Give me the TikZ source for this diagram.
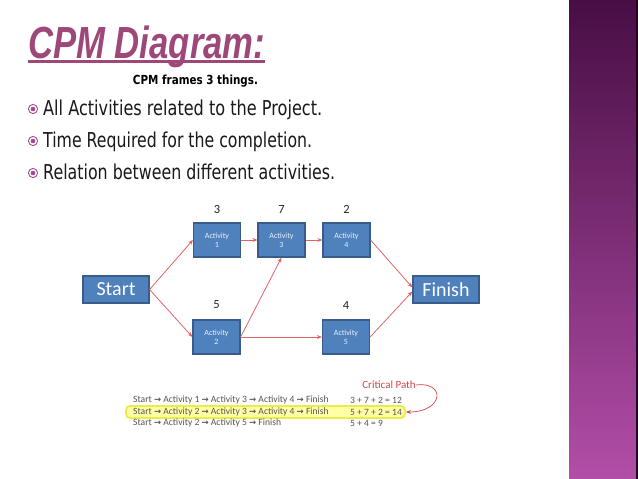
\documentclass[tikz,border=0pt]{standalone}
\usepackage{fontspec}
\usepackage{graphicx}
\usetikzlibrary{arrows.meta}
\setmainfont{Carlito}
\newfontfamily\titlefont{Liberation Sans}
\newfontfamily\bodyfont{DejaVu Sans}
\definecolor{titlecol}{RGB}{158,72,122}
\definecolor{bulcol}{RGB}{165,75,145}
\definecolor{boxfill}{RGB}{79,129,189}
\definecolor{boxdraw}{RGB}{56,93,138}
\definecolor{arrcol}{RGB}{225,100,100}
\definecolor{tabgray}{RGB}{85,85,85}
\definecolor{critred}{RGB}{210,70,70}
\definecolor{hlfill}{RGB}{255,255,165}
\definecolor{hldraw}{RGB}{238,234,70}
\definecolor{bartop}{RGB}{72,14,68}
\definecolor{barbot}{RGB}{178,78,168}
\newcommand{\sqz}[2]{\resizebox{#1}{\height}{#2}}
\newcommand{\arr}{{\bodyfont\bfseries\fontsize{8.5}{8.5}\selectfont →}}
\tikzset{
  bigbox/.style={draw=boxdraw, fill=boxfill, line width=1.2pt, minimum width=66pt, minimum height=27pt, inner sep=0pt, text=white, font=\fontsize{20}{20}\selectfont},
  actbox/.style={draw=boxdraw, fill=boxfill, line width=1.2pt, minimum width=47pt, minimum height=34pt, inner sep=0pt, text=white!88!boxfill, align=center, font=\fontsize{8}{9}\selectfont},
  dur/.style={font=\fontsize{12.5}{12.5}\selectfont, text=black!85, inner sep=0pt},
  link/.style={draw=arrcol, line width=0.8pt, -{Stealth[length=5pt,width=4pt]}},
  bultext/.style={anchor=base west, inner sep=0pt, font=\bodyfont\fontsize{20.5}{20.5}\selectfont, text=black!90},
  rowtext/.style={anchor=west, inner sep=0pt, text=tabgray, font=\fontsize{9.6}{9.6}\selectfont},
}
\begin{document}
\begin{tikzpicture}[x=1pt, y=-1pt]
\useasboundingbox (0,0) rectangle (638,479);
\fill[white] (0,0) rectangle (638,479);
% side bar
\shade[top color=bartop, bottom color=barbot] (569,0) rectangle (638,479);
\fill[black!60!bartop] (636,0) rectangle (638,479);
% title
\node[anchor=base west, inner sep=0pt, text=titlecol, font=\titlefont\bfseries\itshape\fontsize{45}{45}\selectfont] (title) at (28,58) {\sqz{237pt}{CPM Diagram:}};
\draw[titlecol, line width=3pt] ([yshift=-3.5pt]title.base west) -- ([yshift=-3.5pt]title.base east);
\node[inner sep=0pt, font=\bodyfont\bfseries\fontsize{12.5}{12.5}\selectfont] (sub) at (195.5,81) {\sqz{125pt}{CPM frames 3 things.}};
% bullets
\foreach \yy in {109,141,173}{
  \draw[bulcol, line width=0.9pt] (33,\yy) circle (4.6pt);
  \fill[bulcol] (33,\yy) circle (2.3pt);
}
\node[bultext] (b1) at (43,115) {\sqz{279pt}{All Activities related to the Project.}};
\node[bultext] (b2) at (43,147) {\sqz{269pt}{Time Required for the completion.}};
\node[bultext] (b3) at (43,179) {\sqz{292pt}{Relation between different activities.}};
% network
\node[bigbox] (start) at (116,289.5) {Start};
\node[bigbox] (finish) at (446,289.5) {Finish};
\node[actbox] (a1) at (217,240) {Activity\\1};
\node[actbox] (a3) at (281.5,240) {Activity\\3};
\node[actbox] (a4) at (346.5,240) {Activity\\4};
\node[actbox] (a2) at (216.5,337) {Activity\\2};
\node[actbox] (a5) at (346,337) {Activity\\5};
\node[dur] (d1) at (217,209) {3};
\node[dur] (d3) at (281.5,209) {7};
\node[dur] (d4) at (346.5,209) {2};
\node[dur] (d2) at (216.5,305) {5};
\node[dur] (d5) at (346,305) {4};
\draw[link] (start.east) -- (a1.west);
\draw[link] (start.east) -- (a2.west);
\draw[link] (a1) -- (a3);
\draw[link] (a3) -- (a4);
\draw[link] (a2.east) -- (a3.south);
\draw[link] (a2) -- (a5);
\draw[link] (a4.east) -- ([yshift=2pt]finish.west);
\draw[link] (a5.east) -- ([yshift=-2pt]finish.west);
% paths table
\node[draw=hldraw, line width=1.8pt, fill=hlfill, rounded corners=4pt, minimum width=279pt, minimum height=12pt, inner sep=0pt] (hl) at (265.5,412) {};
\node[rowtext] (r1) at (133,400) {Start \arr{} Activity 1 \arr{} Activity 3 \arr{} Activity 4 \arr{} Finish};
\node[rowtext] (r2) at (133,412) {Start \arr{} Activity 2 \arr{} Activity 3 \arr{} Activity 4 \arr{} Finish};
\node[rowtext] (r3) at (133,423) {Start \arr{} Activity 2 \arr{} Activity 5 \arr{} Finish};
\node[rowtext] (s1) at (350,400) {3 + 7 + 2 = 12};
\node[rowtext] (s2) at (350,412) {5 + 7 + 2 = 14};
\node[rowtext] (s3) at (350,423) {5 + 4 = 9};
\node[inner sep=0pt, text=critred, font=\fontsize{11}{11}\selectfont] (crit) at (389,385) {Critical Path};
\draw[draw=critred, line width=0.7pt, -{Stealth[length=5pt,width=4pt]}] (crit.east) .. controls (446,381) and (444,412) .. (hl.east);
\end{tikzpicture}
\end{document}
